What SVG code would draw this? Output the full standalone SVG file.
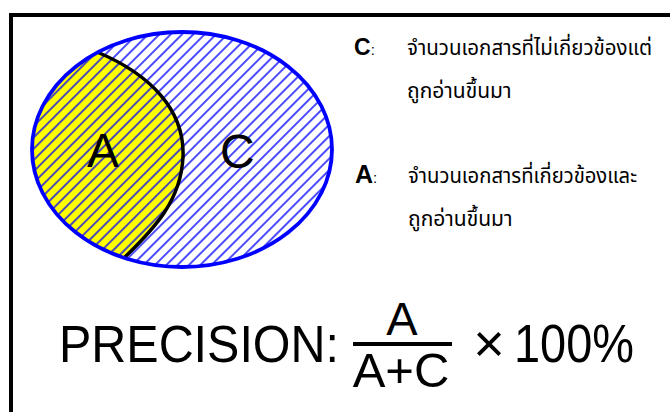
<svg xmlns="http://www.w3.org/2000/svg" width="670" height="412" viewBox="0 0 670 412">
<style>
.lat{font-family:"Liberation Sans",Arial,sans-serif;fill:#000}
.th{font-family:"Noto Sans Thai","Noto Sans","DejaVu Sans",sans-serif;font-size:21px;fill:#000}
.lbl{font-weight:bold}
</style>
<defs>
<pattern id="hatch" patternUnits="userSpaceOnUse" width="8" height="10" patternTransform="rotate(45)">
<line x1="1" y1="0" x2="1" y2="10" stroke="#0000ff" stroke-width="1.4"/>
</pattern>
</defs>
<rect width="670" height="412" fill="#fff"/>
<g id="frame">
<path d="M11,412 V15 H670" fill="none" stroke="#000" stroke-width="4"/>
</g>
<g id="venn">
<ellipse cx="182" cy="149.5" rx="150" ry="117.5" fill="#fff"/>
<path id="regionA" d="M97,52 C150,74 185,110 183,157 C181,200 155,228 125,257 A150,117.5 0 0 1 97,52 Z" fill="#ffff00"/>
<ellipse cx="182" cy="149.5" rx="150" ry="117.5" fill="url(#hatch)"/>
<path d="M97,52 C150,74 185,110 183,157 C181,200 155,228 125,257" fill="none" stroke="#000" stroke-width="3.5"/>
<ellipse cx="182" cy="149.5" rx="150" ry="117.5" fill="none" stroke="#0000ff" stroke-width="3.8"/>
<text class="lat" x="87" y="167" font-size="48">A</text>
<text class="lat" x="220" y="168" font-size="48">C</text>
</g>
<g id="legendC">
<text class="lat lbl" x="354" y="55" font-size="23">C<tspan font-weight="normal" font-size="15">:</tspan></text>
<text class="th" x="407" y="55" textLength="245" lengthAdjust="spacingAndGlyphs">จำนวนเอกสารที่ไม่เกี่ยวข้องแต่</text>
<text class="th" x="407" y="98">ถูกอ่านขึ้นมา</text>
</g>
<g id="legendA">
<text class="lat lbl" x="355" y="183" font-size="25">A<tspan font-weight="normal" font-size="15">:</tspan></text>
<text class="th" x="408" y="183" textLength="229" lengthAdjust="spacingAndGlyphs">จำนวนเอกสารที่เกี่ยวข้องและ</text>
<text class="th" x="408" y="226">ถูกอ่านขึ้นมา</text>
</g>
<g id="formula">
<text class="lat" x="59" y="362" font-size="52" textLength="280" lengthAdjust="spacingAndGlyphs">PRECISION:</text>
<text class="lat" x="402" y="335" font-size="47" text-anchor="middle">A</text>
<line x1="353" y1="344" x2="452" y2="344" stroke="#000" stroke-width="4"/>
<text class="lat" x="401" y="387" font-size="49" text-anchor="middle">A+C</text>
<text class="lat" x="489" y="362" font-size="54" text-anchor="middle">×</text>
<text class="lat" x="514" y="362" font-size="54" textLength="120" lengthAdjust="spacingAndGlyphs">100%</text>
</g>
</svg>
